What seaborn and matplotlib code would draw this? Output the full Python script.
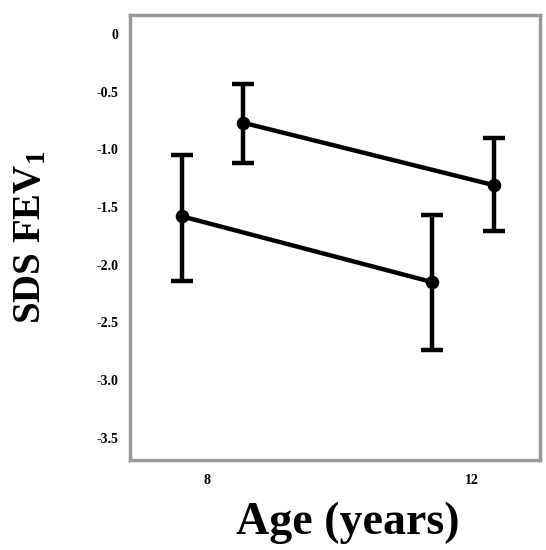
import pandas as pd
import matplotlib
matplotlib.use('Agg')
import matplotlib.pyplot as plt
import seaborn as sns

group = ['A', 'A', 'B', 'B']
age = [8.55, 12.33, 7.62, 11.40]
sds_mean = [-0.77, -1.31, -1.58, -2.15]
sds_low = [-1.12, -1.71, -2.14, -2.74]
sds_high = [-0.43, -0.90, -1.05, -1.57]

yticks = [0, -0.5, -1.0, -1.5, -2.0, -2.5, -3.0, -3.5]
ytick_labels = ['0', '-0.5', '-1.0', '-1.5', '-2.0', '-2.5', '-3.0', '-3.5']
xticks = [8, 12]

df = pd.DataFrame({'group': group, 'age': age, 'sds': sds_mean,
                   'low': sds_low, 'high': sds_high})

sns.set_style('white')
plt.rcParams['font.family'] = ['Liberation Serif', 'DejaVu Serif']
plt.rcParams['font.weight'] = 'bold'
plt.rcParams['text.color'] = 'black'
plt.rcParams['axes.labelcolor'] = 'black'
plt.rcParams['xtick.labelcolor'] = 'black'
plt.rcParams['ytick.labelcolor'] = 'black'
plt.rcParams['mathtext.fontset'] = 'custom'
plt.rcParams['mathtext.rm'] = 'Liberation Serif:bold'
plt.rcParams['mathtext.it'] = 'Liberation Serif:bold'

fig = plt.figure(figsize=(5.46, 5.50), dpi=100)
ax = fig.add_axes([0.238, 0.164, 0.751, 0.809])

sns.lineplot(data=df, x='age', y='sds', units='group', estimator=None,
             color='black', linewidth=3.2, marker='o', markersize=9,
             markeredgecolor='black', ax=ax)
ax.errorbar(df['age'], df['sds'],
            yerr=[df['sds'] - df['low'], df['high'] - df['sds']],
            fmt='none', ecolor='black', elinewidth=3.2, capsize=8,
            capthick=3.2)

ax.set_xlim(6.84, 13.03)
ax.set_ylim(-3.69, 0.165)
ax.set_yticks(yticks)
ax.set_yticklabels(ytick_labels, fontsize=10, fontweight='bold')
ax.set_xticks(xticks)
ax.set_xticklabels([str(t) for t in xticks], fontsize=10, fontweight='bold')
ax.tick_params(axis='y', direction='out', length=5, width=2, color='#555555', pad=3)
ax.tick_params(axis='x', direction='out', length=8, width=2, color='#555555', pad=2)

for side in ['left', 'right', 'top', 'bottom']:
    ax.spines[side].set_visible(True)
    ax.spines[side].set_color('#999999')
    ax.spines[side].set_linewidth(2.5)

ax.set_xlabel('Age (years)', fontsize=33, fontweight='bold')
ax.xaxis.set_label_coords(0.53, -0.095)
ax.set_ylabel('SDS FEV$_1$', fontsize=28, fontweight='bold', labelpad=34)

fig.savefig('out.png', dpi=100)
